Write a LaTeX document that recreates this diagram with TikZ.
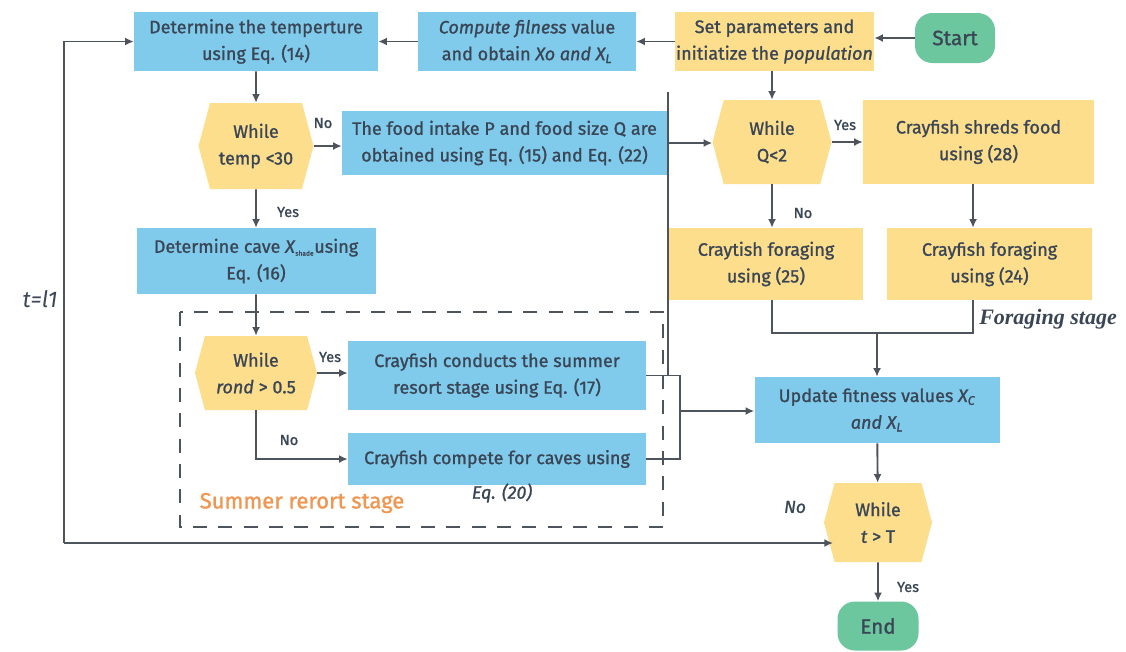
\documentclass[tikz,border=0pt]{standalone}
\usepackage{fontspec}
\setmainfont{Fira Sans}[FakeBold=1.2]
\newfontfamily\plainfs{Fira Sans}
\newfontfamily\timesf{Liberation Serif}
\usetikzlibrary{arrows.meta,shapes.symbols,calc}
\definecolor{bluebox}{RGB}{128,203,235}
\definecolor{yellowbox}{RGB}{253,222,140}
\definecolor{greenbox}{RGB}{108,198,158}
\definecolor{txt}{RGB}{58,70,86}
\definecolor{ln}{RGB}{78,84,92}
\definecolor{orangetxt}{RGB}{240,150,80}
\begin{document}
\begin{tikzpicture}[x=0.75pt,y=-0.75pt,
  every node/.style={text=txt},
  base/.style={inner sep=0pt, align=center, font=\fontsize{13.5pt}{20pt}\selectfont},
  bbox/.style={base, rectangle, fill=bluebox},
  ybox/.style={base, rectangle, fill=yellowbox},
  hexa/.style={base, shape=signal, signal to=west and east, signal pointer angle=150, fill=yellowbox},
  term/.style={base, rectangle, rounded corners=13pt, fill=greenbox, font=\fontsize{15.5pt}{18pt}\selectfont},
  lab/.style={inner sep=0pt, font=\fontsize{11pt}{12pt}\selectfont},
  conn/.style={draw=ln, line width=1.4pt},
  arr/.style={conn, -{Latex[length=6.5pt,width=6pt]}},
  dashbox/.style={draw=ln, line width=1.5pt, dash pattern=on 10.5pt off 8.5pt}
]
\fill[white] (0,0) rectangle (1126,651);
\useasboundingbox (0,0) rectangle (1126,651);

% nodes
\node[bbox, minimum width=183pt, minimum height=44.25pt] (temp) at (256,41.5) {Determine the temperture\\using Eq. (14)};
\node[bbox, minimum width=163.5pt, minimum height=44.25pt] (compute) at (527,41.5) {\textit{Compute filness} value\\and obtain \textit{Xo and X\textsubscript{L}}};
\node[ybox, minimum width=149.25pt, minimum height=44.25pt] (setp) at (774.5,41.5) {Set parameters and\\initiatize the \textit{population}};
\node[term, minimum width=60pt, minimum height=37.5pt] (start) at (955,38) {Start};

\node[hexa, minimum width=86.25pt, minimum height=64.5pt] (htemp) at (256,146) {While\\temp <30};
\node[bbox, minimum width=243.75pt, minimum height=48pt] (food) at (504.5,143) {The food intake P and food size Q are\\obtained using Eq. (15) and Eq. (22)};
\node[hexa, minimum width=89.25pt, minimum height=63pt] (hq) at (772,142) {While\\Q<2};
\node[ybox, minimum width=173.25pt, minimum height=63pt] (shred) at (978.5,142) {Crayfish shreds food\\using (28)};

\node[bbox, minimum width=179.25pt, minimum height=49.5pt] (cave) at (256,261) {Determine cave \textit{X}\textsubscript{\fontsize{5pt}{5pt}\selectfont shade}using\\Eq. (16)};
\node[ybox, minimum width=145.5pt, minimum height=54pt] (fora) at (766,264) {Craytish foraging\\using (25)};
\node[ybox, minimum width=153.75pt, minimum height=54pt] (forb) at (989.5,264) {Crayfish foraging\\using (24)};

\node[hexa, minimum width=91.5pt, minimum height=55.5pt] (hrond) at (256,373) {While\\\textit{rond} > 0.5};
\node[bbox, minimum width=223.5pt, minimum height=51.75pt] (summer) at (497,375.5) {Crayfish conducts the summer\\resort stage using Eq. (17)};
\node[bbox, minimum width=223.5pt, minimum height=39pt] (compete) at (497,459) {Crayfish compete for caves using};
\node[base, font=\fontsize{13.5pt}{20pt}\selectfont\itshape] (eq20) at (502,493) {Eq. (20)};

\node[bbox, minimum width=183.75pt, minimum height=49.5pt] (update) at (877,410) {Update fitness values \textit{X\textsubscript{C}}\\\textit{and X\textsubscript{L}}};
\node[hexa, minimum width=81pt, minimum height=59.25pt] (hT) at (878,522.5) {While\\\textit{t} > T};
\node[term, minimum width=60.75pt, minimum height=36.75pt] (end) at (878,626) {End};

% text labels
\node[lab] (lno1) at (323,123) {No};
\node[lab] (lyes1) at (288,212) {Yes};
\node[lab] (lyes2) at (845,125) {Yes};
\node[lab] (lno2) at (803,213) {No};
\node[lab] (lyes3) at (330,357) {Yes};
\node[lab] (lno3) at (289,440) {No};
\node[lab] (lyes4) at (908,587) {Yes};
\node[inner sep=0pt, font=\fontsize{13pt}{14pt}\selectfont\itshape] (lno4) at (795,507) {No};
\node[inner sep=0pt, font=\plainfs\fontsize{17pt}{18pt}\selectfont\itshape] (tl) at (40,299) {t=l1};
\node[inner sep=0pt, text=orangetxt, font=\fontsize{16.5pt}{18pt}\selectfont] (sstage) at (302,503) {Summer rerort stage};
\node[inner sep=0pt, font=\timesf\fontsize{16.5pt}{18pt}\selectfont\bfseries\itshape] (fstage) at (1048,319) {Foraging stage};

% dashed stage box
\draw[dashbox] (180,312) rectangle (663,527);

% coordinates
\coordinate (vt) at (668,92);
\coordinate (vq) at (668,143);
\coordinate (vb) at (668,375.5);
\coordinate (jt) at (680,375.5);
\coordinate (jm) at (680,411);
\coordinate (jb) at (680,459);
\coordinate (fj1) at (772,333);
\coordinate (fj2) at (973,333);
\coordinate (lb) at (64,543);
\coordinate (hTin) at (833,543);

% connectors
\draw[arr] (start.west) -- (start.west -| setp.east);
\draw[arr] (setp) -- (compute);
\draw[arr] (compute) -- (temp);
\draw[arr] (temp) -- (htemp);
\draw[arr] (htemp.east) -- (htemp.east -| food.west);
\draw[arr] (htemp) -- (cave);
\draw[arr] (cave) -- (hrond);
\draw[arr] (hrond.east) -- (hrond.east -| summer.west);
\draw[arr] (hrond.south) |- (compete.west);
\draw[conn] (summer.east) -- (jt) -- (jb) -- (compete.east);
\draw[arr] (jm) -- (jm -| update.west);
\draw[conn] (vt) -- (vb);
\draw[arr] (vq) -- (vq -| hq.west);
\draw[arr] (hq.north |- setp.south) -- (hq.north);
\draw[arr] (hq.east) -- (hq.east -| shred.west);
\draw[arr] (hq.south) -- (hq.south |- fora.north);
\draw[arr] (fj2 |- shred.south) -- (fj2 |- forb.north);
\draw[conn] (fj1 |- fora.south) -- (fj1) -- (fj2) -- (fj2 |- forb.south);
\draw[arr] (update.north |- fj1) -- (update.north);
\draw[arr] (update) -- (hT);
\draw[arr] (hT) -- (end);
\draw[arr] (lb) |- (temp.west);
\draw[arr] (lb) -- (hTin);
\end{tikzpicture}
\end{document}
